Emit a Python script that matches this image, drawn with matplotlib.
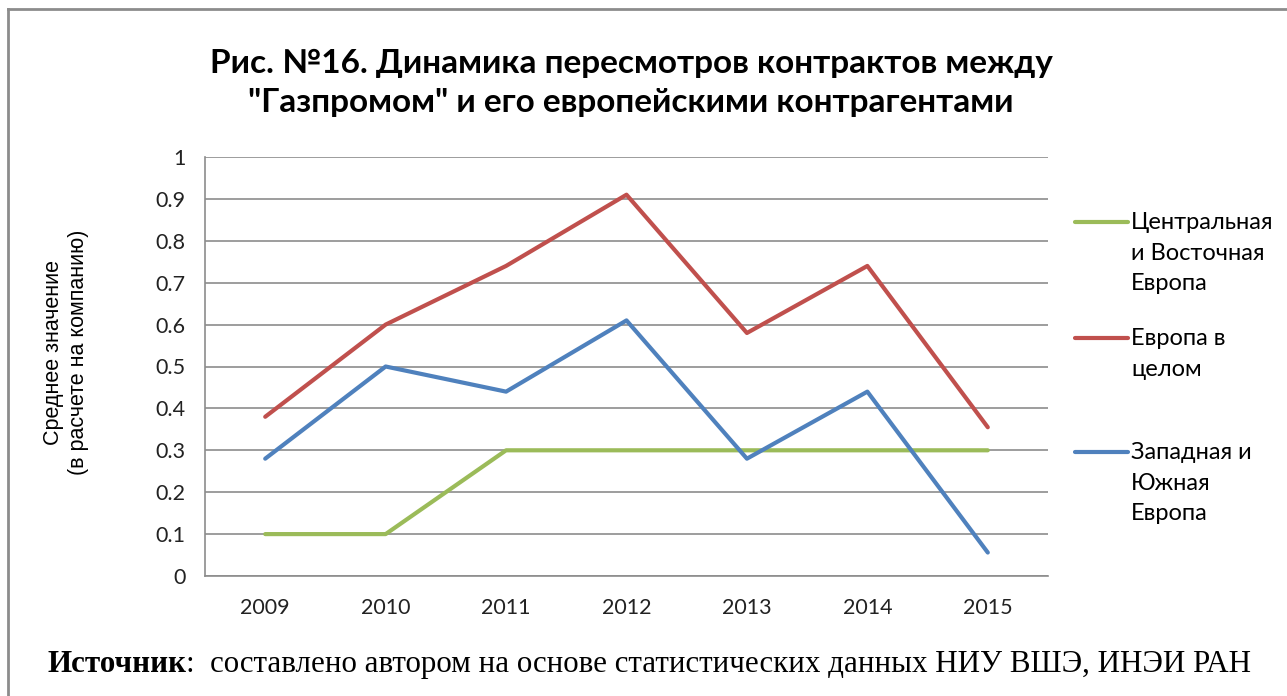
import matplotlib.pyplot as plt
from matplotlib.lines import Line2D

# ------------------------------------------------------------
# DATA
# ------------------------------------------------------------
years = ["2009", "2010", "2011", "2012", "2013", "2014", "2015"]
central_east = [0.1, 0.1, 0.3, 0.3, 0.3, 0.3, 0.3]
europe_total = [0.38, 0.6, 0.74, 0.91, 0.58, 0.74, 0.355]
west_south = [0.28, 0.5, 0.44, 0.61, 0.28, 0.44, 0.056]

series_labels = ["Центральная\nи Восточная\nЕвропа", "Европа в\nцелом", "Западная и\nЮжная\nЕвропа"]
series_colors = ["#9BBB59", "#C0504D", "#4F81BD"]

title = 'Рис. №16. Динамика пересмотров контрактов между\n"Газпромом" и его европейскими контрагентами'
ylabel = "Среднее значение\n(в расчете на компанию)"
source_head = "Источник"
source_rest = ":  составлено автором на основе статистических данных НИУ ВШЭ, ИНЭИ РАН"

UI = "Lato"

# ------------------------------------------------------------
# FIGURE
# ------------------------------------------------------------
W, H = 1287, 696
fig = plt.figure(figsize=(W / 100, H / 100), dpi=100)
fig.patch.set_facecolor("white")

ax = fig.add_axes([205 / W, 1 - 576 / H, (1048 - 205) / W, (576 - 157) / H])

x = range(len(years))
for vals, col in zip([central_east, europe_total, west_south], series_colors):
    ax.plot(x, vals, color=col, linewidth=3.0, solid_capstyle="round", solid_joinstyle="round", zorder=3)

ax.set_xlim(-0.5, len(years) - 0.5)
ax.set_ylim(0, 1)
ax.set_yticks([i / 10 for i in range(11)])
ax.set_yticklabels(["0", "0.1", "0.2", "0.3", "0.4", "0.5", "0.6", "0.7", "0.8", "0.9", "1"],
                   fontsize=15.5, family=UI)
ax.set_xticks(list(x))
ax.set_xticklabels(years, fontsize=15.5, family=UI)
ax.tick_params(axis="both", length=0, pad=14, colors="#222222")
ax.tick_params(axis="x", pad=16)

ax.grid(axis="y", color="#8C8C8C", linewidth=1.2)
ax.set_axisbelow(True)
for s in ["top", "right"]:
    ax.spines[s].set_visible(False)
for s in ["left", "bottom"]:
    ax.spines[s].set_color("#8C8C8C")
    ax.spines[s].set_linewidth(1.2)

# y label
fig.text(66 / W, 1 - 352 / H, ylabel, rotation=90, ha="center", va="center",
         fontsize=15.5, family="Liberation Sans", linespacing=1.3)

# title
fig.text(631 / W, 1 - 83 / H, title, ha="center", va="center",
         fontsize=24, fontweight="bold", family=UI, linespacing=1.4)

# legend (drawn by hand to match layout)
leg_y = [222, 338, 452]
for lab, col, yy in zip(series_labels, series_colors, leg_y):
    fig.add_artist(Line2D([1075 / W, 1128 / W], [1 - yy / H, 1 - yy / H],
                          color=col, linewidth=3.0, solid_capstyle="round"))
    fig.text(1131 / W, 1 - (yy - 10) / H, lab, ha="left", va="top",
             fontsize=17, family=UI, linespacing=1.57)

# frame lines
fig.add_artist(Line2D([8 / W, 1], [1 - 9 / H, 1 - 9 / H], color="#8C8C8C", linewidth=2))
fig.add_artist(Line2D([8 / W, 8 / W], [0, 1 - 9 / H], color="#8C8C8C", linewidth=2))

# source note
t1 = fig.text(47 / W, 1 - 672 / H, source_head, ha="left", va="baseline",
              fontsize=22.3, fontweight="bold", family="Liberation Serif")
ax.annotate(source_rest, xy=(1, 0), xycoords=t1, ha="left", va="bottom",
            fontsize=22.3, family="Liberation Serif", annotation_clip=False)

fig.savefig("out.png", dpi=100)
